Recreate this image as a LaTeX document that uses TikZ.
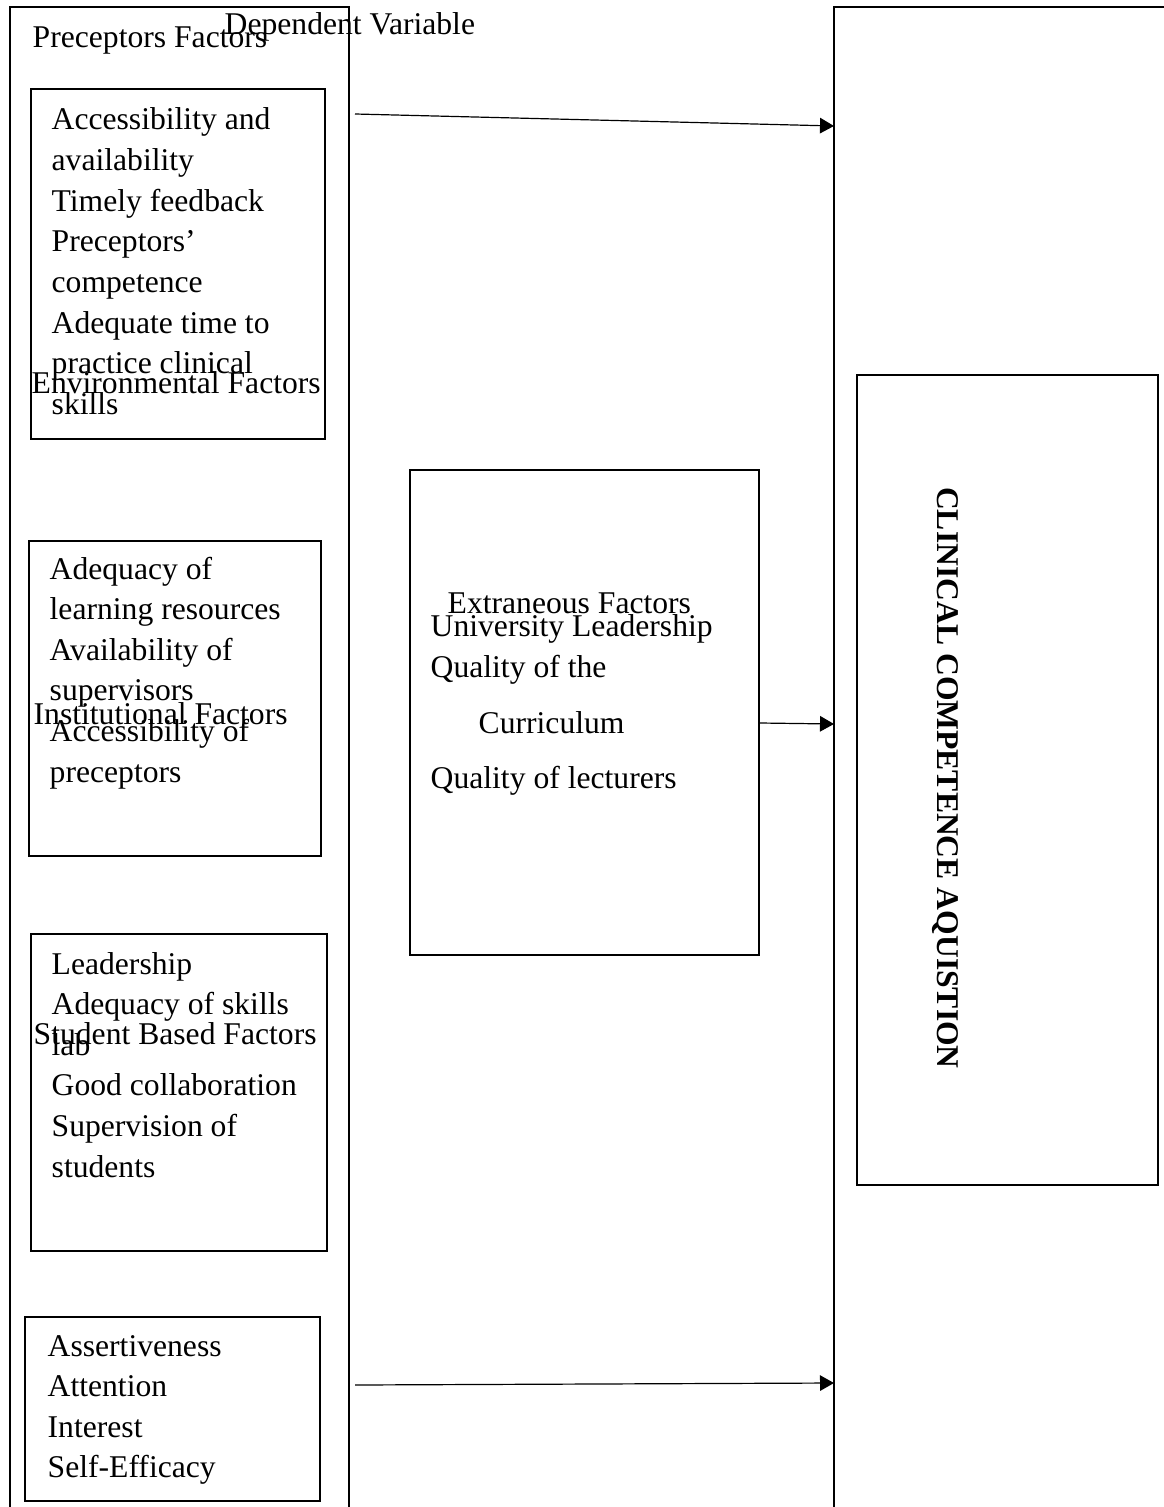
\documentclass[tikz,border=0pt]{standalone}
\usepackage{fontspec}
\setmainfont{Liberation Serif}
\usetikzlibrary{calc}
\usetikzlibrary{arrows.meta}

\tikzset{
  frame/.style={draw, line width=0.02cm, rectangle, inner sep=0pt, anchor=north west},
  item/.style={anchor=base west, inner sep=0pt},
  arr/.style={line width=0.012cm, -{Triangle[length=0.14cm,width=0.155cm]}}
}

\begin{document}
\begin{tikzpicture}[font=\fontsize{9pt}{11.55pt}\selectfont]
\useasboundingbox (0,0) rectangle (11.64,-15.07);
\clip (0,0) rectangle (11.64,-15.07);
% outer frames, open below the page
\draw[line width=0.02cm] (0.10,-15.30) rectangle (3.49,-0.07);
\draw[line width=0.02cm] (8.34,-15.30) rectangle (11.80,-0.07);
\node[item] (prechead) at (0.32,-0.48) {Preceptors Factors};
\node[item] (dephead) at (2.24,-0.35) {Dependent Variable};
% preceptors factors
\node[frame, minimum width=2.94cm, minimum height=3.50cm] (precbox) at (0.30,-0.88) {};
\foreach \txt [count=\i from 0] in {Accessibility and, availability, Timely feedback, Preceptors’, competence, Adequate time to, practice clinical, skills}
  \node[item] (prec\i) at (0.51,{-1.30-0.406*\i}) {\txt};
\node[item] (envhead) at (0.31,-3.93) {Environmental Factors};
% environmental factors
\node[frame, minimum width=2.92cm, minimum height=3.15cm] (envbox) at (0.28,-5.40) {};
\foreach \txt [count=\i from 0] in {Adequacy of, learning resources, Availability of, supervisors, Accessibility of, preceptors}
  \node[item] (env\i) at (0.49,{-5.79-0.406*\i}) {\txt};
\node[item] (insthead) at (0.33,-7.24) {Institutional Factors};
% institutional factors
\node[frame, minimum width=2.96cm, minimum height=3.17cm] (instbox) at (0.30,-9.33) {};
\foreach \txt [count=\i from 0] in {Leadership, Adequacy of skills, lab, Good collaboration, Supervision of, students}
  \node[item] (inst\i) at (0.51,{-9.74-0.406*\i}) {\txt};
\node[item] (studhead) at (0.33,-10.44) {Student Based Factors};
% student based factors
\node[frame, minimum width=2.95cm, minimum height=1.84cm] (studbox) at (0.24,-13.16) {};
\foreach \txt [count=\i from 0] in {Assertiveness, Attention, Interest, Self-Efficacy}
  \node[item] (stud\i) at (0.47,{-13.56-0.406*\i}) {\txt};
% extraneous factors
\node[frame, minimum width=3.49cm, minimum height=4.85cm] (extbox) at (4.09,-4.69) {};
\node[item] (exthead) at (4.47,-6.13) {Extraneous Factors};
\node[item] (ext0) at (4.30,-6.36) {University Leadership};
\node[item] (ext1) at (4.30,-6.77) {Quality of the};
\node[item] (ext2) at (4.78,-7.33) {Curriculum};
\node[item] (ext3) at (4.30,-7.88) {Quality of lecturers};
% dependent variable
\node[frame, minimum width=3.01cm, minimum height=8.10cm] (compbox) at (8.56,-3.74) {};
\node[rotate=-90, font=\fontsize{9pt}{11.55pt}\selectfont\bfseries] (comp) at (9.45,-7.78) {CLINICAL COMPETENCE AQUISTION};
% arrows
\coordinate (A) at (3.55,-1.14);
\coordinate (A2) at (8.34,-1.26);
\draw[arr] (A) -- (A2);
\coordinate (B) at ($(extbox.east)+(0,-0.105)$);
\coordinate (B2) at (8.34,-7.24);
\draw[arr] (B) -- (B2);
\coordinate (C) at (3.55,-13.85);
\coordinate (C2) at (8.34,-13.83);
\draw[arr] (C) -- (C2);
\end{tikzpicture}
\end{document}
